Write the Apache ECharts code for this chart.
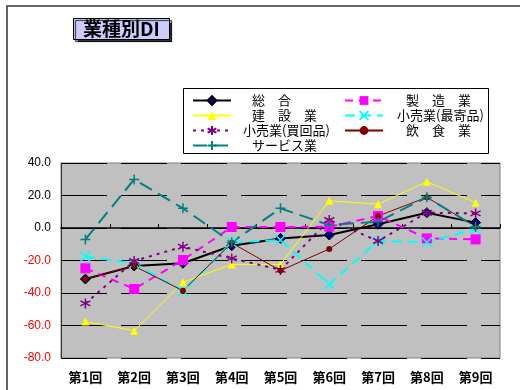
<!DOCTYPE html>
<html>
<head>
<meta charset="utf-8">
<script src="https://cdn.jsdelivr.net/npm/echarts@6/dist/echarts.min.js"></script>
<style>
  html, body { margin: 0; padding: 0; background: #fff; }
  #main { width: 520px; height: 390px; }
</style>
</head>
<body>
<div id="main"></div>
<script>
// categories and values
var categories = ['第1回', '第2回', '第3回', '第4回', '第5回', '第6回', '第7回', '第8回', '第9回'];
var sogo      = [-31.4, -23.4, -21.7, -10.9, -6.4, -4.3, 2.3, 9.4, 3.3];
var seizo     = [-24.8, -37.5, -19.7, 0.6, 0.6, 0.8, 7.4, -6.4, -7.0];
var kensetsu  = [-57.6, -63.2, -33.4, -22.4, -22.4, 16.8, 14.6, 28.5, 15.6];
var moyori    = [-17.6, -21.7, -38.8, -8.8, -7.4, -34.7, -8.0, -8.8, -0.6];
var kaimawari = [-46.4, -20.3, -11.5, -18.7, -25.8, 4.9, -8.0, 9.4, 9.0];
var inshoku   = [-31.4, -23.4, -38.6, -9.2, -26.2, -12.9, 7.4, 18.9, 0.8];
var service   = [-7.0, 29.9, 12.1, -8.8, 12.1, 1.8, 3.9, 18.9, 0.8];
var yTicks    = [-80, -60, -40, -20, 0, 20, 40];

var symX = 'path://M0,0L10,10M10,0L0,10';
var symStar = 'path://M5,0L5,10M0.7,2.5L9.3,7.5M9.3,2.5L0.7,7.5';
var symPlus = 'path://M5,0L5,10M0,5L10,5';

var myChart = echarts.init(document.getElementById('main'), null, { renderer: 'canvas' });

function lineSeries(name, data, color, width, dash, symbol, size, itemStyle) {
    return {
        name: name,
        type: 'line',
        data: data,
        symbol: symbol,
        symbolSize: size,
        lineStyle: { color: color, width: width, type: dash },
        itemStyle: itemStyle,
        animation: false
    };
}

var option = {
    backgroundColor: '#fff',
    textStyle: { fontFamily: '"Noto Sans CJK JP", "Liberation Sans", sans-serif' },
    title: {
        text: '業種別DI',
        left: 73,
        top: 18,
        padding: [1, 10],
        backgroundColor: '#ccccff',
        borderColor: '#000',
        borderWidth: 1,
        shadowColor: 'rgba(0,0,0,0.8)',
        shadowBlur: 1,
        shadowOffsetX: 2,
        shadowOffsetY: 2,
        textStyle: { fontSize: 19, fontWeight: 'bold', color: '#000', lineHeight: 20,
            fontFamily: '"Noto Sans CJK JP", sans-serif' }
    },
    graphic: [
        {
            type: 'polyline',
            shape: { points: [[7, 390], [7, 6], [521, 6]] },
            style: { stroke: '#333', lineWidth: 1.5, fill: null },
            z: 0
        },
        {
            type: 'rect',
            shape: { x: 183.5, y: 88.5, width: 305, height: 65 },
            style: { fill: '#fff', stroke: '#000', lineWidth: 1 },
            z: 1
        }
    ],
    legend: [
        {
            orient: 'vertical',
            left: 187,
            top: 89,
            itemWidth: 38,
            itemHeight: 11,
            itemGap: 2,
            textStyle: { fontSize: 13, color: '#000', padding: [0, 0, 0, 16] },
            data: [
                '総　合',
                '建　設　業',
                { name: '小売業(買回品)', textStyle: { padding: [0, 0, 0, 7] } },
                'サービス業'
            ]
        },
        {
            orient: 'vertical',
            left: 339,
            top: 89,
            itemWidth: 38,
            itemHeight: 11,
            itemGap: 2,
            textStyle: { fontSize: 13, color: '#000', padding: [0, 0, 0, 18] },
            data: [
                '製　造　業',
                { name: '小売業(最寄品)', textStyle: { padding: [0, 0, 0, 9] } },
                '飲　食　業'
            ]
        }
    ],
    grid: {
        left: 61,
        right: 20,
        top: 163,
        height: 195,
        show: true,
        backgroundColor: '#c0c0c0',
        borderColor: '#808080',
        borderWidth: 1
    },
    xAxis: [
        {
            type: 'category',
            data: categories,
            position: 'bottom',
            axisLine: { show: false, onZero: false },
            axisTick: { show: false },
            axisLabel: { margin: 13, fontSize: 13, fontWeight: 'bold', color: '#000' }
        },
        {
            type: 'category',
            data: categories,
            position: 'top',
            axisLine: { show: true, onZero: true, lineStyle: { color: '#000', width: 1.5 } },
            axisTick: { show: true, length: 4, lineStyle: { color: '#000' } },
            axisLabel: { show: false }
        }
    ],
    yAxis: {
        type: 'value',
        min: -80,
        max: 40,
        interval: 20,
        axisLine: { show: true, lineStyle: { color: '#333' } },
        axisTick: { show: false },
        splitLine: { lineStyle: { color: '#000', width: 1, type: [46, 14] } },
        axisLabel: {
            margin: 10,
            fontSize: 12,
            fontFamily: '"Liberation Sans", Arial, sans-serif',
            formatter: function (v) { return v.toFixed(1); },
            color: function (v) { return Number(v) < 0 ? '#ff0000' : '#000'; }
        }
    },
    series: [
        lineSeries('総　合', sogo, '#000', 2, 'solid', 'diamond', 10,
            { color: '#000080', borderColor: '#000', borderWidth: 1 }),
        lineSeries('製　造　業', seizo, '#ff00ff', 2, [8, 6], 'rect', 10,
            { color: '#ff00ff' }),
        lineSeries('建　設　業', kensetsu, '#ffff00', 1, 'solid', 'triangle', 8,
            { color: '#ffff00' }),
        lineSeries('小売業(最寄品)', moyori, '#00ffff', 2, [10, 6], symX, 10,
            { color: 'transparent', borderColor: '#00ffff', borderWidth: 1.5 }),
        lineSeries('小売業(買回品)', kaimawari, '#800080', 2, [3, 5], symStar, 10,
            { color: 'transparent', borderColor: '#800080', borderWidth: 1.5 }),
        lineSeries('飲　食　業', inshoku, '#800000', 1, 'solid', 'circle', 6,
            { color: '#800000' }),
        lineSeries('サービス業', service, '#008080', 2, [14, 7], symPlus, 10,
            { color: 'transparent', borderColor: '#008080', borderWidth: 1.5 })
    ]
};

if (option && typeof option === 'object') {
    myChart.setOption(option);
}
window.addEventListener('resize', myChart.resize);
</script>
</body>
</html>
